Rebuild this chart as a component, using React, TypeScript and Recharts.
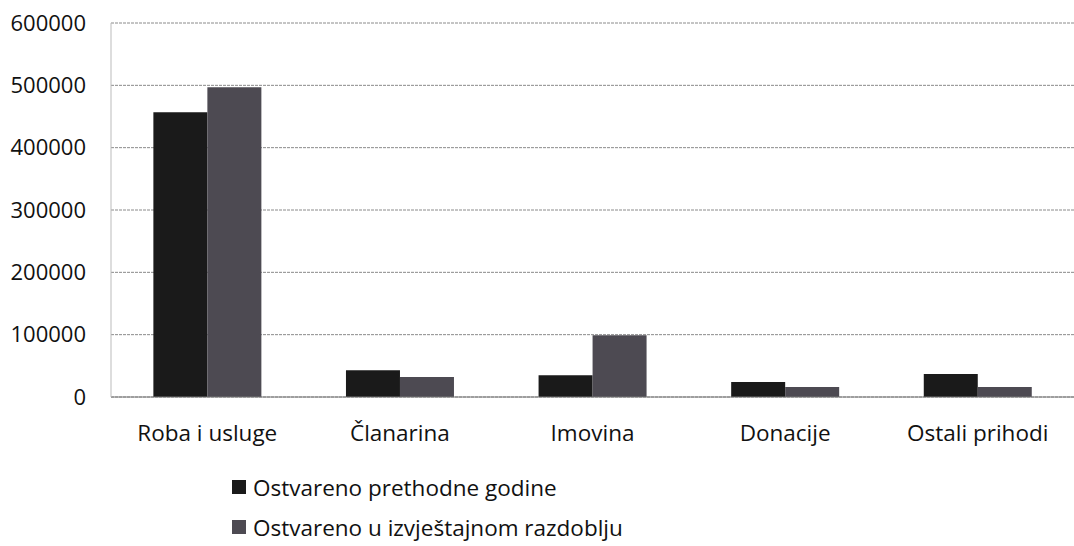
import { BarChart, Bar, XAxis, YAxis, CartesianGrid, Legend } from "recharts";

const categories = ["Roba i usluge", "Članarina", "Imovina", "Donacije", "Ostali prihodi"];
const prethodne = [457000, 43000, 35000, 24000, 37000];
const izvjestajno = [497000, 32000, 99000, 16000, 16000];
const yTicks = [0, 100000, 200000, 300000, 400000, 500000, 600000];

const data = categories.map((name, i) => ({
  name,
  prethodne: prethodne[i],
  izvjestajno: izvjestajno[i],
}));

const font = "'Open Sans', sans-serif";

function LegendBox({ payload }: any) {
  return (
    <div style={{ fontFamily: font, fontSize: 22.5, color: "#111" }}>
      {(payload || []).map((p: any) => (
        <div key={p.value} style={{ display: "flex", alignItems: "center", height: 40 }}>
          <span style={{ width: 14, height: 14, background: p.color, marginRight: 7, display: "inline-block" }} />
          {p.value}
        </div>
      ))}
    </div>
  );
}

export default function App() {
  return (
    <div style={{ position: "absolute", left: 0, top: 0, background: "#fff" }}>
      <BarChart
        width={1074}
        height={546}
        data={data}
        margin={{ top: 23, right: 0, bottom: 109, left: 0 }}
        barCategoryGap="22%"
        barGap={0}
      >
        <CartesianGrid vertical={false} stroke="#8a8a8a" strokeDasharray="3 1" />
        <XAxis
          dataKey="name"
          height={40}
          tickLine={false}
          tickSize={0}
          tickMargin={28}
          axisLine={{ stroke: "#777" }}
          tick={{ fill: "#111", fontSize: 22.5, fontFamily: font }}
        />
        <YAxis
          width={111}
          domain={[0, 600000]}
          ticks={yTicks}
          interval={0}
          tickLine={false}
          tickSize={0}
          tickMargin={25}
          axisLine={{ stroke: "#bbb" }}
          tick={{ fill: "#111", fontSize: 22, fontFamily: font }}
        />
        <Legend
          layout="horizontal"
          verticalAlign="middle"
          align="center"
          content={<LegendBox />}
          wrapperStyle={{ top: 467, left: 232, width: 520 }}
        />
        <Bar dataKey="prethodne" name="Ostvareno prethodne godine" fill="#1a1a1a" isAnimationActive={false} />
        <Bar dataKey="izvjestajno" name="Ostvareno u izvještajnom razdoblju" fill="#4d4a52" isAnimationActive={false} />
      </BarChart>
    </div>
  );
}
